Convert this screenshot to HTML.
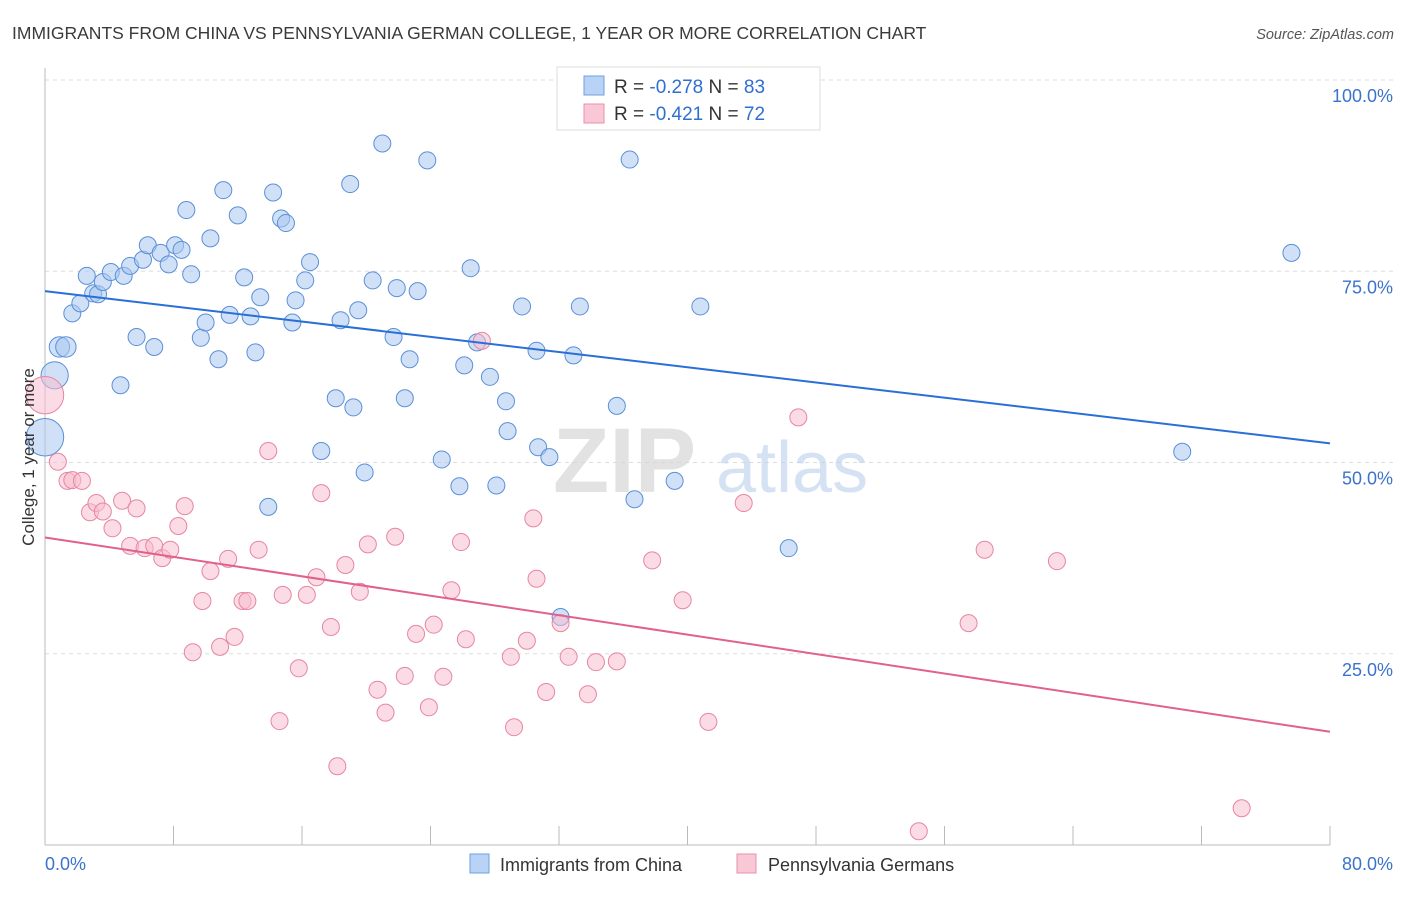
<!DOCTYPE html>
<html><head><meta charset="utf-8"><style>
body{margin:0;background:#fff;font-family:"Liberation Sans",sans-serif;}
svg text{font-family:"Liberation Sans",sans-serif;}
</style></head><body>
<svg id="chart" width="1406" height="892" xmlns="http://www.w3.org/2000/svg">
<text x="12" y="39" font-size="17.5" fill="#3a3a3a">IMMIGRANTS FROM CHINA VS PENNSYLVANIA GERMAN COLLEGE, 1 YEAR OR MORE CORRELATION CHART</text>
<text x="1394" y="39" font-size="14.5" fill="#555" text-anchor="end" font-style="italic">Source: ZipAtlas.com</text>
<g id="grid"></g>
<g>
<text x="553" y="492" font-size="92" fill="#d6d6d6" font-weight="bold" opacity="0.7">ZIP</text>
<text x="716" y="492" font-size="72" fill="#b9d0ec" opacity="0.6">atlas</text>
</g>
<g id="axes"></g>
<g id="pts"></g>
<g id="lines"></g>
<text transform="translate(34,457) rotate(-90)" font-size="17" fill="#333" text-anchor="middle">College, 1 year or more</text>
<g>
<rect x="557" y="67" width="263" height="63" fill="#fff" stroke="#ddd"/>
<rect x="584" y="76" width="20" height="19" fill="#b8d3f5" stroke="#6f9fe0"/>
<rect x="584" y="104" width="20" height="19" fill="#f9c8d7" stroke="#ea8fae"/>
<text x="614" y="93" font-size="19" fill="#333">R = <tspan fill="#2f6fd0">-0.278</tspan>   N = <tspan fill="#2f6fd0">83</tspan></text>
<text x="614" y="120" font-size="19" fill="#333">R = <tspan fill="#2f6fd0">-0.421</tspan>   N = <tspan fill="#2f6fd0">72</tspan></text>
</g>
<g>
<rect x="470" y="854" width="19" height="19" fill="#b8d3f5" stroke="#6f9fe0"/>
<text x="500" y="871" font-size="18" fill="#333">Immigrants from China</text>
<rect x="737" y="854" width="19" height="19" fill="#f9c8d7" stroke="#ea8fae"/>
<text x="768" y="871" font-size="18" fill="#333">Pennsylvania Germans</text>
</g>
</svg>
<script>
const xTicks=[0,8,16,24,32,40,48,56,64,72,80];
const yTicks=[25,50,75,100];
const yTickLabels=["25.0%","50.0%","75.0%","100.0%"];
const xEndLabels=["0.0%","80.0%"];
const chinaX=[0,0.6,0.9,1.3,1.7,2.2,2.6,3.0,3.3,3.6,4.1,4.7,4.9,5.3,5.7,6.1,6.4,6.8,7.2,7.7,8.1,8.5,8.8,9.1,9.7,10.0,10.3,10.8,11.1,11.5,12.0,12.4,12.8,13.1,13.4,13.9,14.2,14.7,15.0,15.4,15.6,16.2,16.5,17.2,18.1,18.4,19.0,19.2,19.5,19.9,20.4,21.0,21.7,21.9,22.4,22.7,23.2,23.8,24.7,25.8,26.1,26.5,26.9,27.7,28.1,28.7,28.8,29.7,30.6,30.7,31.4,32.1,32.9,33.3,35.6,36.4,36.7,39.2,40.8,46.3,70.8,77.6];
const chinaY=[53.3,61.4,65.1,65.1,69.5,70.8,74.4,72.1,72.0,73.6,74.9,60.1,74.4,75.7,66.4,76.5,78.4,65.1,77.4,75.9,78.4,77.8,83.0,74.6,66.3,68.3,79.3,63.5,85.6,69.3,82.3,74.2,69.1,64.4,71.6,44.2,85.3,81.9,81.3,68.3,71.2,73.8,76.2,51.5,58.4,68.6,86.4,57.2,69.9,48.7,73.8,91.7,66.4,72.8,58.4,63.5,72.4,89.5,50.4,46.9,62.7,75.4,65.7,61.2,47.0,58.0,54.1,70.4,64.6,52.0,50.7,29.8,64.0,70.4,57.4,89.6,45.2,47.6,70.4,38.8,51.4,77.4];
const chinaW=[2.2,1.6,1.2,1.2];
const paX=[0,0.8,1.4,1.7,2.3,2.8,3.2,3.6,4.2,4.8,5.3,5.7,6.2,6.8,7.3,7.8,8.3,8.7,9.2,9.8,10.3,10.9,11.4,11.8,12.3,12.6,13.3,13.9,14.6,14.8,15.8,16.3,16.9,17.2,17.8,18.2,18.7,19.6,20.1,20.7,21.2,21.8,22.4,23.1,23.9,24.2,24.8,25.3,25.9,26.2,27.2,29.0,29.2,30.0,30.4,30.6,31.2,32.1,32.6,33.8,34.3,35.6,37.8,39.7,41.3,43.5,46.9,54.4,57.5,58.5,63.0,74.5];
const paY=[58.8,50.1,47.6,47.7,47.6,43.5,44.7,43.6,41.4,45.0,39.1,44.0,38.8,39.1,37.5,38.6,41.7,44.3,25.2,31.9,35.8,25.9,37.4,27.2,31.9,31.9,38.6,51.5,16.2,32.7,23.1,32.7,35.0,46.0,28.5,10.3,36.6,33.1,39.3,20.3,17.3,40.3,22.1,27.6,18.0,28.8,22.0,33.3,39.6,26.9,65.9,24.6,15.4,26.7,42.7,34.8,20.0,29.0,24.6,19.7,23.9,24.0,37.2,32.0,16.1,44.7,55.9,1.8,29.0,38.6,37.1,4.8];
const paW=[2.2];
const chinaTrend=[72.4,52.5];
const paTrend=[40.2,14.8];
const NS="http://www.w3.org/2000/svg";
function sx(v){return 45+v*(1330-45)/80;}
function sy(v){return 845-v*(845-80)/100;}
function mk(tag,attrs,parent){const e=document.createElementNS(NS,tag);for(const k in attrs)e.setAttribute(k,attrs[k]);document.getElementById(parent).appendChild(e);return e;}
yTicks.forEach((t,i)=>{
 const g=mk('line',{x1:45,x2:1394,y1:sy(t),y2:sy(t),stroke:'#ddd','stroke-dasharray':'4,4'},'grid');
 
 
 const tx=mk('text',{x:1393,y:sy(t)+22,'font-size':18,fill:'#3b73cc','text-anchor':'end'},'axes');
 tx.textContent=yTickLabels[i];
 
 
});
const ax=mk('line',{x1:45,x2:1330,y1:845,y2:845,stroke:'#bbb'},'axes');


const ay=mk('line',{x1:45,x2:45,y1:68,y2:845,stroke:'#bbb'},'axes');


xTicks.forEach(t=>{
 const l=mk('line',{x1:sx(t),x2:sx(t),y1:826,y2:845,stroke:'#bbb'},'axes');
 
 
});
const xl0=mk('text',{x:45,y:870,'font-size':18,fill:'#3b73cc'},'axes');xl0.textContent=xEndLabels[0];


const xl1=mk('text',{x:1393,y:870,'font-size':18,fill:'#3b73cc','text-anchor':'end'},'axes');xl1.textContent=xEndLabels[1];


function series(xs,ys,ws,fill,stroke,name){
 xs.forEach((x,i)=>{
  const c=mk('circle',{cx:sx(x),cy:sy(ys[i]),r:8.5*(ws[i]||1),fill:fill,'fill-opacity':0.55,stroke:stroke,'stroke-width':1},'pts');
  
  
 });
}
series(chinaX,chinaY,chinaW,'#a9c8f0','#5b8fd8','china-point');
series(paX,paY,paW,'#f7bdd0','#e7869f','pa-german-point');
const l1=mk('line',{x1:sx(0),y1:sy(chinaTrend[0]),x2:sx(80),y2:sy(chinaTrend[1]),stroke:'#2a6fd6','stroke-width':2},'lines');


const l2=mk('line',{x1:sx(0),y1:sy(paTrend[0]),x2:sx(80),y2:sy(paTrend[1]),stroke:'#e2608d','stroke-width':2},'lines');


</script>
</body></html>
